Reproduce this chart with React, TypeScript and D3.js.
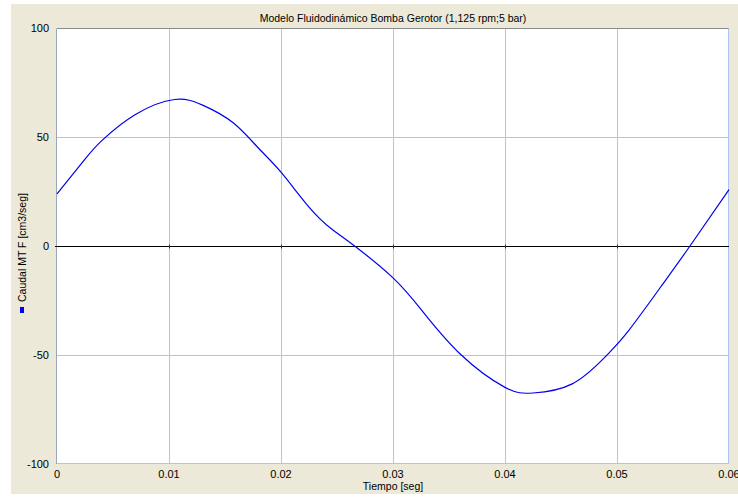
import React from "react";
import * as d3 from "d3";

const times = [0, 0.0025, 0.004, 0.007, 0.0105, 0.013, 0.0157, 0.018, 0.02, 0.0225, 0.0245, 0.0266, 0.03, 0.0325, 0.036, 0.04, 0.0425, 0.046, 0.049, 0.051, 0.054, 0.0565, 0.06];
const caudal = [24, 40, 48.5, 60.5, 67.4, 64.8, 56.8, 45, 34, 18, 8, 0, -14.5, -29, -49.5, -64.8, -67.4, -63.2, -50.5, -39, -18, 0, 26];
const xTicks = [0, 0.01, 0.02, 0.03, 0.04, 0.05, 0.06];
const xTickLabels = ["0", "0.01", "0.02", "0.03", "0.04", "0.05", "0.06"];
const yTicks = [-100, -50, 0, 50, 100];
const yTickLabels = ["-100", "-50", "0", "50", "100"];
const title = "Modelo Fluidodinámico Bomba Gerotor (1,125 rpm;5 bar)";
const xLabel = "Tiempo [seg]";
const yLabel = "Caudal MT F [cm3/seg]";

export default function App() {
  const W = 738, H = 497;
  const L = 57, R = 729, T = 28.5, B = 464;
  const x = d3.scaleLinear().domain([0, 0.06]).range([L, R]);
  const y = d3.scaleLinear().domain([-100, 100]).range([B, T]);
  const pts = times.map((t, i) => [t, caudal[i]] as [number, number]);
  const line = d3.line<[number, number]>().x(d => x(d[0])).y(d => y(d[1])).curve(d3.curveNatural);
  const font = "'Liberation Sans', Arial, sans-serif";
  const grid = "#aac6ee";
  const y0 = Math.round(y(0)) + 0.5;
  return (
    <svg width={W} height={H} style={{ position: "absolute", left: 0, top: 0 }} fontFamily={font}>
      <rect x={0} y={0} width={W} height={H} fill="#ffffff" />
      <rect x={11} y={4} width={W - 11} height={490} fill="#ece9d8" />
      <rect x={L} y={T} width={R - L} height={B - T} fill="#ffffff" />
      {xTicks.slice(1, -1).map(t => (
        <line key={"gx" + t} x1={Math.round(x(t)) + 0.5} x2={Math.round(x(t)) + 0.5} y1={T} y2={B} stroke={grid} strokeWidth={1} />
      ))}
      {yTicks.filter(v => v !== 0 && v !== 100 && v !== -100).map(v => (
        <line key={"gy" + v} x1={L} x2={R} y1={Math.round(y(v)) + 0.5} y2={Math.round(y(v)) + 0.5} stroke={grid} strokeWidth={1} />
      ))}
      <line x1={L} x2={R} y1={T} y2={T} stroke="#8a8a8a" strokeWidth={1} />
      <line x1={L - 0.5} x2={L - 0.5} y1={T} y2={B} stroke="#9aa8bb" strokeWidth={1} />
      <line x1={R - 0.5} x2={R - 0.5} y1={T} y2={B} stroke={grid} strokeWidth={1} />
      <line x1={L} x2={R} y1={B - 0.5} y2={B - 0.5} stroke={grid} strokeWidth={1} />
      <line x1={L - 2} x2={R} y1={y0} y2={y0} stroke="#000000" strokeWidth={1} />
      {xTicks.slice(1, -1).map(t => (
        <line key={"tk" + t} x1={Math.round(x(t)) + 0.5} x2={Math.round(x(t)) + 0.5} y1={y0 - 2} y2={y0 + 2} stroke="#333" strokeWidth={1} />
      ))}
      <path d={line(pts) || ""} fill="none" stroke="#0000ee" strokeWidth={1.2} />
      {yTicks.map((v, i) => (
        <text key={"yl" + v} x={L - 8} y={y(v)} dy="0.35em" textAnchor="end" fontSize={11} fill="#000">{yTickLabels[i]}</text>
      ))}
      {xTicks.map((t, i) => (
        <text key={"xl" + t} x={x(t)} y={478} textAnchor="middle" fontSize={11} fill="#000">{xTickLabels[i]}</text>
      ))}
      <text x={(L + R) / 2} y={22} textAnchor="middle" fontSize={10.5} fill="#000">{title}</text>
      <text x={(L + R) / 2} y={490} textAnchor="middle" fontSize={10.5} fill="#000">{xLabel}</text>
      <text transform={`translate(25.5,302) rotate(-90)`} textAnchor="start" fontSize={10.5} fill="#000">{yLabel}</text>
      <rect x={20} y={307} width={4} height={6} fill="#0000ff" />
    </svg>
  );
}
